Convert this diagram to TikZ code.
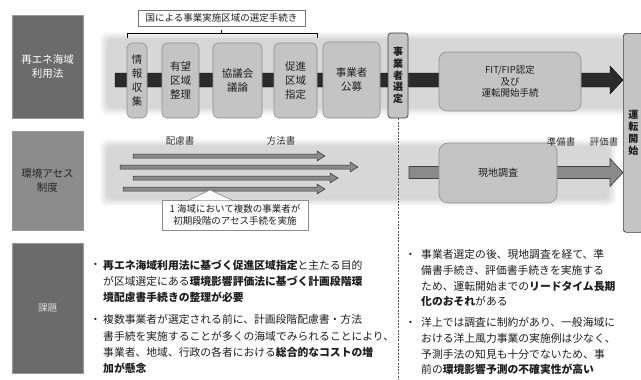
\documentclass[tikz,border=0pt]{standalone}
\usepackage{fontspec}
\setmainfont{Noto Sans CJK JP}
\usetikzlibrary{calc}
\definecolor{dkbox}{HTML}{6B6B6B}
\definecolor{mdbox}{HTML}{8C8C8C}
\definecolor{ltbox}{HTML}{C4C4C4}
\definecolor{ltedge}{HTML}{8E8E8E}
\definecolor{arrowgray}{HTML}{8A8A8A}
\definecolor{txt}{HTML}{1E1E1E}
\newcommand{\vfs}[2]{\fontsize{#1}{#2}\selectfont}
\newcommand{\softband}[4]{\foreach \k in {0,1,...,7}{\fill[black,opacity=0.021,rounded corners=6pt] (#1+\k,#2+\k) rectangle (#3-\k,#4-\k);}}
\newcommand{\blockarrow}[7]{\draw[#1] (#2,#4-#5) -- (#3-#7,#4-#5) -- (#3-#7,#4-#6) -- (#3,#4) -- (#3-#7,#4+#6) -- (#3-#7,#4+#5) -- (#2,#4+#5) -- cycle;}
\begin{document}
\begin{tikzpicture}[x=1pt,y=-1pt,
  rowlabel/.style={draw=black!40, line width=0.6pt, minimum width=71pt, align=center, inner sep=0pt},
  stepbox/.style={draw=ltedge, fill=ltbox, rounded corners=5pt, align=center, inner sep=0pt, line width=0.6pt, font=\vfs{10.5}{14}, text=txt},
  keybox/.style={draw=black!75, fill=ltbox, rounded corners=3pt, align=center, inner sep=0pt, line width=0.7pt, font=\bfseries\vfs{10}{11.7}, text=txt},
  doclabel/.style={font=\vfs{9.5}{11}, text=black!80, inner sep=0pt},
  thinarrow/.style={fill=arrowgray, draw=black!80, line width=0.5pt},
  bodytext/.style={anchor=north west, inner sep=0pt, align=left, text=txt},
  bulletdot/.style={anchor=north west, inner sep=0pt, text=txt}
]
\useasboundingbox (0,0) rectangle (641,380);
\fill[white] (0,0) rectangle (641,380);

% row labels
\node[rowlabel, fill=dkbox, minimum height=103pt, text=white, font=\vfs{10.5}{13.5}] (lab1) at (47.5,66.5) {再エネ海域\\利用法};
\node[rowlabel, fill=mdbox, minimum height=99pt, text=black!85, font=\vfs{10.5}{13.5}] (lab2) at (47.5,180.5) {環境アセス\\制度};
\node[rowlabel, fill=dkbox, minimum height=130pt, text=black!15, font=\vfs{9.5}{12}] (lab3) at (47.5,308) {課題};

% soft bands
\softband{100}{32}{633}{115}
\softband{100}{139}{616}{206}

% title and brace
\node[draw=black!55, fill=white, line width=0.6pt, minimum width=167pt, minimum height=16pt, inner sep=0pt, font=\vfs{9.5}{11}, text=txt] (title) at (221.5,18) {国による事業実施区域の選定手続き};
\coordinate (brL) at (127,38);
\coordinate (brR) at (317,38);
\coordinate (brM) at (221,33);
\draw[line width=0.8pt] (brL) -- (127,33) -- (317,33) -- (brR);
\draw[line width=0.8pt] (brM) -- (221,29.5);

% main black arrow
\blockarrow{fill=black!83}{115}{623}{80}{7}{14}{13}

% row 1 boxes
\node[stepbox, minimum width=20pt, minimum height=75pt] (info) at (137,80.5) {情\\報\\収\\集};
\node[stepbox, minimum width=37pt, minimum height=75pt] (yubo) at (180.5,80.5) {有望\\区域\\整理};
\node[stepbox, minimum width=49pt, minimum height=75pt] (kyogi) at (237.5,80.5) {協議会\\議論};
\node[stepbox, minimum width=43pt, minimum height=75pt] (soku) at (295.5,80.5) {促進\\区域\\指定};
\node[stepbox, minimum width=57pt, minimum height=76pt] (kobo) at (351.5,80) {事業者\\公募};
\node[keybox, minimum width=20pt, minimum height=85pt] (sentei) at (398,75.5) {事\\業\\者\\選\\定};
\node[stepbox, minimum width=142pt, minimum height=59pt, rounded corners=8pt, font=\vfs{9.5}{11.5}] (fit) at (510,81.5) {FIT/FIP認定\\及び\\運転開始手続};
\node[keybox, minimum width=20pt, minimum height=199pt, anchor=north west] (unten) at (623,33) {運\\転\\開\\始};

% dashed separator
\coordinate (dashend) at (398,380);
\draw[dash pattern=on 2pt off 1.3pt, line width=0.9pt, black!65] (sentei.south) -- (dashend);

% row 2
\blockarrow{thinarrow}{133}{325}{156}{2}{5}{8}
\blockarrow{thinarrow}{120}{358}{167}{2}{5}{8}
\blockarrow{thinarrow}{133}{338}{178}{2}{5}{8}
\blockarrow{thinarrow}{123}{325}{189}{2}{5}{8}

\blockarrow{fill=arrowgray, draw=black!75, line width=0.6pt}{409}{623}{172.5}{6}{14}{13}
\node[stepbox, minimum width=118pt, minimum height=60pt, rounded corners=9pt, font=\vfs{10}{12}] (genchi) at (498,173) {現地調査};

\node[doclabel] (hairyo) at (180,141) {配慮書};
\node[doclabel] (hoho) at (281,141) {方法書};
\node[doclabel] (junbi) at (561,142) {準備書};
\node[doclabel] (hyoka) at (604,142) {評価書};

% callout
\node[draw=black!45, fill=white, line width=0.6pt, minimum width=146pt, minimum height=30pt, inner sep=0pt, align=center, font=\vfs{9.5}{12}, text=txt] (callout) at (235,215) {1 海域において複数の事業者が\\初期段階のアセス手続を実施};
\coordinate (ptip) at (210,190);
\fill[white] (189,200.4) -- (ptip) -- (232,200.4) -- cycle;
\draw[black!45, line width=0.6pt] (189,200) -- (ptip) -- (232,200);

% bottom texts left
\node[bulletdot, font=\vfs{10.8}{16.3}] (dl1) at (90,259.5) {\vphantom{国}・};
\node[bodytext, font=\vfs{10.8}{16.3}] (tl1) at (103,259.5) {\textbf{再エネ海域利用法に基づく促進区域指定}と主たる目的\\が区域選定にある\textbf{環境影響評価法に基づく計画段階環}\\\textbf{境配慮書手続きの整理が必要}};
\node[bulletdot, font=\vfs{10.8}{16.3}] (dl2) at (90,314.5) {\vphantom{国}・};
\node[bodytext, font=\vfs{10.8}{16.3}] (tl2) at (103,314.5) {複数事業者が選定される前に、計画段階配慮書・方法\\書手続を実施することが多くの海域でみられることにより、\\事業者、地域、行政の各者における\textbf{総合的なコストの増}\\\textbf{加が懸念}};

% bottom texts right
\node[bulletdot, font=\vfs{10.8}{15.6}] (dr1) at (405,249.5) {\vphantom{国}・};
\node[bodytext, font=\vfs{10.8}{15.6}] (tr1) at (421,249.5) {事業者選定の後、現地調査を経て、準\\備書手続き、評価書手続きを実施する\\ため、運転開始までの\textbf{リードタイム長期}\\\textbf{化のおそれ}がある};
\node[bulletdot, font=\vfs{10.8}{15.6}] (dr2) at (405,317.5) {\vphantom{国}・};
\node[bodytext, font=\vfs{10.8}{15.6}] (tr2) at (421,317.5) {洋上では調査に制約があり、一般海域に\\おける洋上風力事業の実施例は少なく、\\予測手法の知見も十分でないため、事\\前の\textbf{環境影響予測の不確実性が高い}};
\end{tikzpicture}
\end{document}
